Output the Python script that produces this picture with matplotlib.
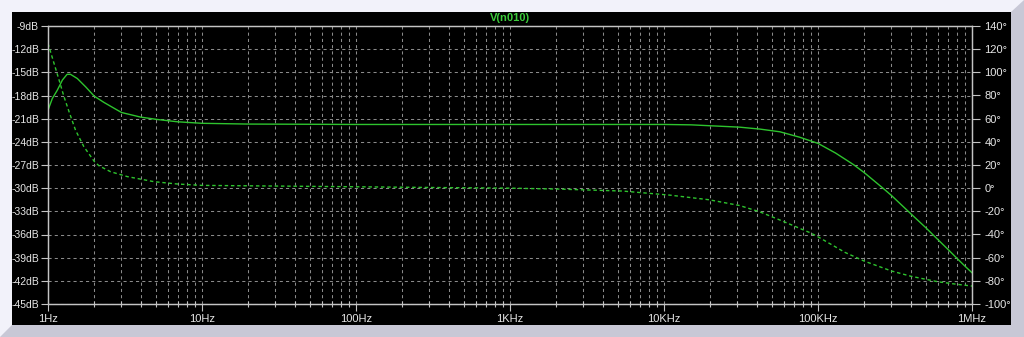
import matplotlib
matplotlib.use('Agg')
import matplotlib.pyplot as plt
from matplotlib.patches import Rectangle, Polygon
from matplotlib.ticker import NullFormatter, LogLocator

# Magnitude trace (solid)
mag_freq = [1.0, 1.066, 1.15, 1.24, 1.33, 1.40, 1.55, 1.76, 2.0, 2.31, 3.0, 4.0, 5.1, 6.9,
            10, 20, 40, 100, 1e3, 1e4, 1.5e4, 3.1e4, 4.2e4, 5.66e4, 7.6e4, 1e5, 1.3e5, 1.7e5,
            2e5, 2.66e5, 3e5, 4e5, 5e5, 6e5, 7e5, 8e5, 9e5, 1e6]
mag_db = [-19.9, -18.4, -17.3, -16.0, -15.26, -15.26, -15.8, -16.9, -18.1, -18.9, -20.2,
          -20.8, -21.1, -21.4, -21.6, -21.7, -21.72, -21.75, -21.75, -21.75, -21.8, -22.1,
          -22.35, -22.7, -23.4, -24.2, -25.45, -26.95, -28.0, -30.05, -30.95, -33.3, -35.1,
          -36.65, -37.95, -39.1, -40.1, -40.95]

# Phase trace (dashed)
ph_freq = [1.0, 1.094, 1.18, 1.27, 1.37, 1.51, 1.71, 2.0, 2.14, 2.55, 3.27, 4.88, 6.9, 10,
           100, 300, 1e3, 2.1e3, 5.4e3, 1.09e4, 1.96e4, 3.1e4, 4.2e4, 5.66e4, 8.9e4, 1e5,
           1.5e5, 2e5, 3e5, 4e5, 6e5, 8e5, 1e6]
ph_deg = [125, 107.8, 93.4, 79, 66, 50, 35.8, 23, 19.4, 14.2, 10, 5.6, 3.6, 2.4, 1.2, 0.6,
          0, -0.8, -2.5, -6, -10, -15, -20.5, -27.5, -38.5, -42, -55.5, -63, -71.5, -76,
          -80.8, -83, -84.5]

db_ticks = list(range(-45, -8, 3))
deg_ticks = list(range(-100, 141, 20))
freq_ticks = [1, 10, 100, 1e3, 1e4, 1e5, 1e6]
freq_labels = ['1Hz', '10Hz', '100Hz', '1KHz', '10KHz', '100KHz', '1MHz']

W, H = 1024, 337
trace = '#2ec42e'
frame = '#c4c4c4'
txt = '#e6e6e6'
plt.rcParams['font.family'] = ['Liberation Sans', 'DejaVu Sans']

fig = plt.figure(figsize=(W / 100, H / 100), dpi=100, facecolor='#f2f2fa')

# window bevel + black plot pane
def px(x, y):
    return (x / W, 1 - y / H)

fig.patches.append(Polygon([px(0, 337), px(12, 325), px(1011, 325), px(1011, 12), px(1024, 0),
                            px(1024, 337)], closed=True, transform=fig.transFigure,
                           facecolor='#c8c8d6', edgecolor='none', zorder=-10))
fig.patches.append(Rectangle(px(12, 325), 999 / W, 313 / H, transform=fig.transFigure,
                             facecolor='black', edgecolor='none', zorder=-9))

ax = fig.add_axes([48 / W, 33 / H, 924 / W, 278 / H])
ax.set_facecolor('none')
ax.set_xscale('log')
ax.set_xlim(1, 1e6)
ax.set_ylim(-45, -9)

ax.set_xticks(freq_ticks)
ax.set_xticklabels(freq_labels)
ax.xaxis.set_minor_locator(LogLocator(base=10, subs=range(2, 10)))
ax.xaxis.set_minor_formatter(NullFormatter())
ax.set_yticks(db_ticks)
ax.set_yticklabels(['%ddB' % v for v in db_ticks])

ax.grid(which='both', axis='x', color='#8a8a8a', linestyle=(0, (3, 3)), linewidth=0.75)
ax.grid(which='major', axis='y', color='#8a8a8a', linestyle=(0, (3, 3)), linewidth=0.75)

for s in ax.spines.values():
    s.set_color(frame)
    s.set_linewidth(0.9)

ax.tick_params(axis='x', which='major', colors=frame, labelcolor=txt, labelsize=8,
               length=5, width=0.8, pad=2)
ax.tick_params(axis='y', which='major', colors=frame, labelcolor=txt, labelsize=7.5,
               length=5, width=0.8, pad=1.5)
ax.tick_params(axis='x', which='minor', colors=frame, length=4, width=0.8, direction='inout')

ax.plot(mag_freq, mag_db, color=trace, linewidth=1.0)

ax2 = ax.twinx()
ax2.set_facecolor('none')
ax2.set_ylim(-100, 140)
ax2.set_yticks(deg_ticks)
ax2.set_yticklabels(['%d°' % v for v in deg_ticks])
for s in ax2.spines.values():
    s.set_color(frame)
    s.set_linewidth(0.9)
ax2.tick_params(axis='y', colors=frame, labelcolor=txt, labelsize=8, length=6, width=0.8,
                pad=3)
ax2.plot(ph_freq, ph_deg, color=trace, linewidth=1.0, linestyle=(0, (2.5, 2)))

fig.text(510 / W, 1 - 18 / H, 'V(n010)', color='#3ccc3c', fontsize=8, ha='center',
         va='center', fontweight='bold')

fig.savefig('out.png', dpi=100, facecolor=fig.get_facecolor())
